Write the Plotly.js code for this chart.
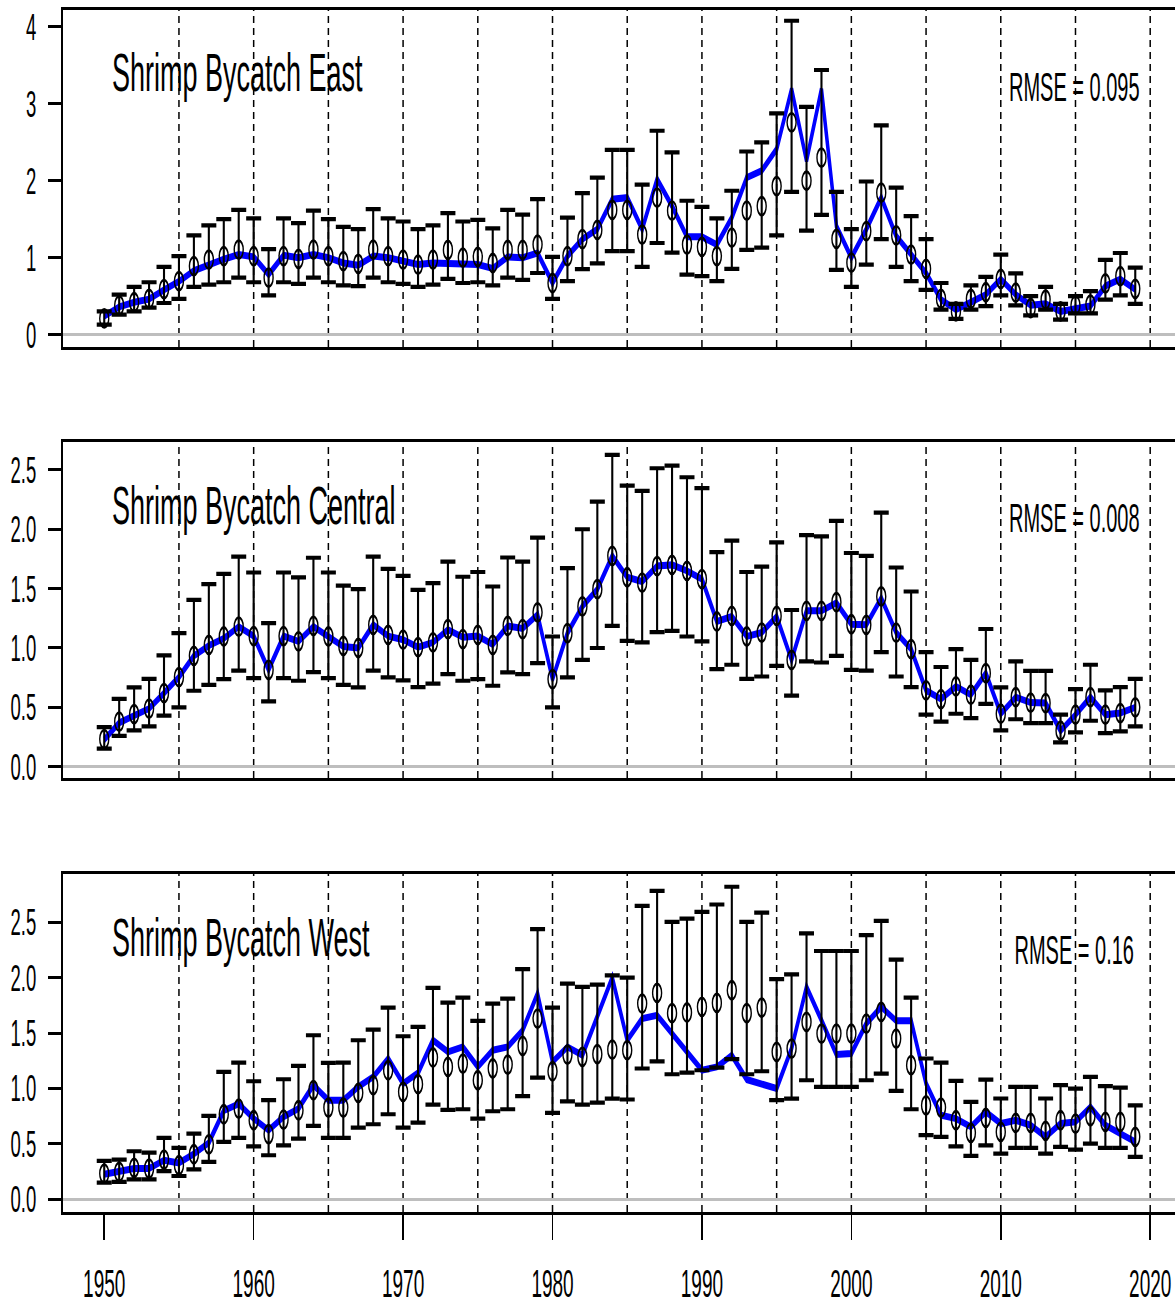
<!DOCTYPE html>
<html>
<head>
<meta charset="utf-8">
<script src="https://cdn.plot.ly/plotly-3.0.1.min.js"></script>
<style>
html,body{margin:0;padding:0;overflow:hidden;background:#fff;width:1175px;height:1305px;}
#wrap{width:1175px;height:1305px;overflow:hidden;position:relative;}
#chart{width:2400px;height:1305px;transform:scaleX(0.5);transform-origin:0 0;position:absolute;left:0;top:0;}
</style>
</head>
<body>
<div id="wrap"><div id="chart"></div></div>
<script>
// ---------------- data ----------------
const years = [1950,1951,1952,1953,1954,1955,1956,1957,1958,1959,
  1960,1961,1962,1963,1964,1965,1966,1967,1968,1969,
  1970,1971,1972,1973,1974,1975,1976,1977,1978,1979,
  1980,1981,1982,1983,1984,1985,1986,1987,1988,1989,
  1990,1991,1992,1993,1994,1995,1996,1997,1998,1999,
  2000,2001,2002,2003,2004,2005,2006,2007,2008,2009,
  2010,2011,2012,2013,2014,2015,2016,2017,2018,2019];

const panelTitles = ["Shrimp Bycatch East", "Shrimp Bycatch Central", "Shrimp Bycatch West"];
const rmseLabels = ["RMSE = 0.095", "RMSE = 0.008", "RMSE = 0.16"];
const xTickVals = [1950,1960,1970,1980,1990,2000,2010,2020];
const gridYears = [1955,1960,1965,1970,1975,1980,1985,1990,1995,2000,2005,2010,2015,2020];
const yTicksEast = [0,1,2,3,4];
const yTicksEastText = ["0","1","2","3","4"];
const yTicksCW = [0,0.5,1,1.5,2,2.5];
const yTicksCWText = ["0.0","0.5","1.0","1.5","2.0","2.5"];

// East
const eastObs = [0.21,0.38,0.42,0.465,0.59,0.695,0.89,0.975,1.02,1.105,
  1.02,0.74,1.02,0.985,1.105,1.02,0.955,0.92,1.105,1.02,
  0.975,0.91,0.975,1.10,1.00,1.01,0.93,1.10,1.10,1.17,
  0.67,1.02,1.24,1.36,1.62,1.62,1.30,1.78,1.61,1.17,
  1.14,1.02,1.26,1.61,1.67,1.93,2.76,2.00,2.30,1.245,
  0.935,1.345,1.845,1.29,1.04,0.855,0.465,0.30,0.465,0.55,
  0.725,0.545,0.345,0.455,0.30,0.38,0.39,0.665,0.76,0.595];
const eastLo = [0.13,0.26,0.30,0.35,0.41,0.465,0.62,0.65,0.68,0.74,
  0.68,0.51,0.68,0.66,0.74,0.68,0.64,0.63,0.74,0.68,
  0.66,0.62,0.65,0.725,0.67,0.68,0.64,0.74,0.71,0.80,
  0.465,0.695,0.85,0.925,1.085,1.085,0.88,1.19,1.065,0.78,
  0.76,0.695,0.855,1.10,1.13,1.29,1.855,1.35,1.555,0.84,
  0.62,0.91,1.24,0.88,0.695,0.58,0.325,0.205,0.325,0.37,
  0.51,0.38,0.25,0.325,0.195,0.275,0.275,0.455,0.51,0.40];
const eastHi = [0.30,0.52,0.62,0.68,0.88,1.02,1.29,1.42,1.50,1.62,
  1.51,1.11,1.51,1.45,1.61,1.50,1.40,1.37,1.63,1.51,
  1.47,1.37,1.42,1.58,1.47,1.49,1.38,1.62,1.56,1.76,
  1.01,1.52,1.84,2.04,2.40,2.40,1.95,2.65,2.37,1.74,
  1.66,1.51,1.87,2.38,2.50,2.875,4.08,2.96,3.44,1.855,
  1.37,1.99,2.72,1.91,1.54,1.24,0.67,0.40,0.64,0.75,
  1.04,0.795,0.50,0.62,0.40,0.50,0.565,0.97,1.06,0.87];
const eastFit = [0.24,0.36,0.42,0.46,0.58,0.69,0.83,0.91,0.98,1.04,
  1.01,0.78,1.03,1.00,1.04,1.00,0.93,0.90,1.02,1.00,
  0.955,0.91,0.93,0.93,0.91,0.91,0.86,1.01,1.00,1.06,
  0.67,1.02,1.24,1.37,1.76,1.78,1.37,2.02,1.67,1.27,
  1.27,1.17,1.52,2.04,2.13,2.41,3.19,2.26,3.19,1.41,
  1.00,1.37,1.78,1.28,1.04,0.80,0.455,0.325,0.42,0.52,
  0.72,0.52,0.38,0.40,0.30,0.345,0.37,0.63,0.72,0.585];

// Central
const centralObs = [0.233,0.38,0.443,0.49,0.62,0.755,0.934,1.027,1.097,1.18,
  1.10,0.816,1.10,1.055,1.187,1.097,1.018,1.00,1.195,1.11,
  1.07,1.007,1.047,1.159,1.075,1.111,1.027,1.187,1.159,1.30,
  0.738,1.125,1.35,1.495,1.776,1.596,1.55,1.69,1.70,1.65,
  1.58,1.223,1.27,1.097,1.13,1.27,0.90,1.313,1.313,1.386,
  1.20,1.195,1.434,1.13,0.99,0.643,0.57,0.676,0.606,0.788,
  0.446,0.586,0.54,0.536,0.303,0.438,0.586,0.438,0.452,0.50];
const centralLo = [0.152,0.26,0.306,0.34,0.43,0.50,0.64,0.69,0.738,0.81,
  0.746,0.55,0.746,0.724,0.797,0.746,0.69,0.668,0.81,0.752,
  0.727,0.67,0.70,0.78,0.724,0.738,0.682,0.794,0.78,0.873,
  0.50,0.752,0.90,1.00,1.187,1.06,1.047,1.134,1.145,1.097,
  1.055,0.822,0.859,0.74,0.76,0.85,0.598,0.887,0.878,0.934,
  0.816,0.81,0.965,0.76,0.67,0.438,0.38,0.446,0.41,0.53,
  0.306,0.40,0.367,0.367,0.205,0.289,0.387,0.283,0.297,0.34];
const centralHi = [0.334,0.572,0.668,0.74,0.937,1.125,1.406,1.538,1.625,1.77,
  1.636,1.21,1.636,1.594,1.76,1.636,1.526,1.495,1.77,1.667,
  1.608,1.49,1.546,1.728,1.60,1.64,1.518,1.762,1.728,1.93,
  1.097,1.672,2.00,2.233,2.626,2.368,2.323,2.514,2.536,2.438,
  2.346,1.807,1.905,1.64,1.686,1.89,1.32,1.95,1.94,2.07,
  1.80,1.776,2.14,1.678,1.476,0.965,0.84,0.99,0.90,1.16,
  0.668,0.887,0.808,0.808,0.438,0.654,0.859,0.643,0.67,0.74];
const centralFit = [0.227,0.37,0.43,0.49,0.62,0.755,0.934,1.02,1.08,1.18,
  1.10,0.816,1.10,1.055,1.18,1.097,1.013,1.00,1.195,1.10,
  1.07,1.007,1.047,1.155,1.09,1.10,1.03,1.185,1.165,1.28,
  0.738,1.125,1.35,1.495,1.776,1.596,1.56,1.69,1.70,1.65,
  1.58,1.223,1.265,1.097,1.13,1.265,0.90,1.313,1.313,1.38,
  1.20,1.195,1.42,1.13,0.99,0.643,0.57,0.676,0.606,0.788,
  0.446,0.586,0.54,0.536,0.303,0.438,0.586,0.438,0.452,0.50];

// West
const westObs = [0.232,0.247,0.283,0.277,0.358,0.307,0.406,0.496,0.767,0.818,
  0.713,0.587,0.719,0.803,0.984,0.827,0.827,0.96,1.029,1.164,
  0.969,1.038,1.279,1.194,1.224,1.074,1.18,1.215,1.384,1.63,
  1.155,1.306,1.285,1.309,1.35,1.345,1.766,1.862,1.68,1.685,
  1.736,1.772,1.886,1.68,1.73,1.33,1.36,1.60,1.495,1.495,
  1.495,1.585,1.69,1.45,1.21,0.848,0.827,0.713,0.599,0.734,
  0.608,0.689,0.689,0.617,0.713,0.683,0.749,0.698,0.698,0.563];
const westLo = [0.15,0.156,0.18,0.18,0.253,0.21,0.27,0.337,0.517,0.553,
  0.478,0.397,0.487,0.548,0.662,0.553,0.553,0.647,0.677,0.767,
  0.647,0.692,0.854,0.806,0.812,0.728,0.794,0.812,0.93,1.098,
  0.779,0.884,0.854,0.872,0.908,0.90,1.18,1.245,1.128,1.143,
  1.164,1.188,1.264,1.128,1.155,0.894,0.908,1.074,1.014,1.014,
  1.014,1.074,1.134,0.978,0.812,0.578,0.563,0.478,0.391,0.487,
  0.412,0.463,0.463,0.412,0.472,0.448,0.502,0.463,0.463,0.382];
const westHi = [0.346,0.358,0.433,0.421,0.553,0.463,0.593,0.752,1.149,1.233,
  1.065,0.894,1.083,1.203,1.48,1.23,1.233,1.435,1.531,1.73,
  1.471,1.555,1.907,1.775,1.82,1.61,1.766,1.811,2.076,2.437,
  1.73,1.946,1.916,1.937,2.02,2.00,2.647,2.783,2.503,2.533,
  2.593,2.66,2.82,2.503,2.587,1.986,2.03,2.40,2.24,2.24,
  2.24,2.383,2.512,2.163,1.82,1.27,1.233,1.068,0.878,1.08,
  0.909,1.014,1.014,0.909,1.029,0.999,1.104,1.02,1.008,0.848];
const westFit = [0.226,0.247,0.277,0.277,0.352,0.328,0.41,0.51,0.80,0.86,
  0.728,0.623,0.743,0.818,1.03,0.894,0.894,1.014,1.104,1.27,
  1.044,1.14,1.435,1.33,1.375,1.194,1.345,1.375,1.525,1.856,
  1.24,1.375,1.30,1.65,2.00,1.435,1.63,1.66,1.49,1.33,
  1.164,1.194,1.30,1.08,1.044,1.00,1.36,1.916,1.615,1.306,
  1.315,1.585,1.736,1.61,1.61,1.044,0.758,0.728,0.653,0.788,
  0.683,0.713,0.668,0.563,0.683,0.698,0.833,0.668,0.593,0.517];

// ---------------- chart ----------------
const FONT = "Liberation Sans, Arial, Helvetica, sans-serif";
const panels = [
  {obs: eastObs, lo: eastLo, hi: eastHi, fit: eastFit, xa: 'x', ya: 'y',
   range: [-0.162, 4.22], dom: [1 - 347/1305, 1 - 10/1305], tv: yTicksEast, tt: yTicksEastText},
  {obs: centralObs, lo: centralLo, hi: centralHi, fit: centralFit, xa: 'x2', ya: 'y2',
   range: [-0.095, 2.735], dom: [1 - 778/1305, 1 - 442/1305], tv: yTicksCW, tt: yTicksCWText},
  {obs: westObs, lo: westLo, hi: westHi, fit: westFit, xa: 'x3', ya: 'y3',
   range: [-0.115, 2.935], dom: [1 - 1212/1305, 1 - 874/1305], tv: yTicksCW, tt: yTicksCWText}
];

const traces = [];
const shapes = [];
const annotations = [];
const layout = {
  width: 2400, height: 1305,
  margin: {l: 126, r: 47, t: 0, b: 0},
  paper_bgcolor: '#ffffff', plot_bgcolor: '#ffffff',
  showlegend: false,
  font: {family: FONT, color: '#000000'}
};

panels.forEach((p, i) => {
  traces.push({
    x: years, y: p.fit, xaxis: p.xa, yaxis: p.ya,
    type: 'scatter', mode: 'lines',
    line: {color: '#0000ff', width: 7},
    hoverinfo: 'skip'
  });
  traces.push({
    x: years, y: p.obs, xaxis: p.xa, yaxis: p.ya,
    type: 'scatter', mode: 'markers',
    marker: {symbol: 'circle-open', size: 18, color: '#000000', line: {width: 2.8, color: '#000000'}},
    error_y: {
      type: 'data', symmetric: false,
      array: p.hi.map((h, k) => h - p.obs[k]),
      arrayminus: p.lo.map((l, k) => p.obs[k] - l),
      color: '#000000', thickness: 4.2, width: 15
    },
    hoverinfo: 'skip'
  });

  const xName = i === 0 ? 'xaxis' : 'xaxis' + (i + 1);
  const yName = i === 0 ? 'yaxis' : 'yaxis' + (i + 1);
  const isBottom = i === 2;
  layout[xName] = {
    domain: [0, 1], anchor: p.ya, range: [1947.24, 2021.76],
    showline: true, mirror: true, linecolor: '#000000', linewidth: 3,
    showgrid: false, zeroline: false,
    tickmode: 'array', tickvals: xTickVals, ticktext: xTickVals.map(String),
    ticks: isBottom ? 'outside' : '', ticklen: 25, tickwidth: 3, tickcolor: '#000000',
    showticklabels: isBottom, ticklabelstandoff: 11,
    tickfont: {family: FONT, size: 38, color: '#000000'}
  };
  layout[yName] = {
    domain: p.dom, anchor: p.xa, range: p.range,
    showline: true, mirror: true, linecolor: '#000000', linewidth: 4,
    showgrid: false,
    zeroline: true, zerolinecolor: '#bebebe', zerolinewidth: 3,
    tickmode: 'array', tickvals: p.tv, ticktext: p.tt,
    ticks: 'outside', ticklen: 26, tickwidth: 3, tickcolor: '#000000',
    ticklabelstandoff: 16,
    tickfont: {family: FONT, size: 37, color: '#000000'}
  };

  gridYears.forEach(g => {
    shapes.push({
      type: 'line', layer: 'below', xref: p.xa, yref: p.ya + ' domain',
      x0: g, x1: g, y0: 0, y1: 1,
      line: {color: '#000000', width: 3, dash: '7px,5px'}
    });
  });

  const ty = [0.816, 0.8125, 0.8136][i];
  const ry = [0.7715, 0.774, 0.775][i];
  annotations.push({
    xref: p.xa + ' domain', yref: p.ya + ' domain', x: 0.0431, y: ty,
    xanchor: 'left', yanchor: 'middle', showarrow: false,
    text: panelTitles[i], font: {family: FONT, size: 54, color: '#000000'}
  });
  annotations.push({
    xref: p.xa + ' domain', yref: p.ya + ' domain', x: 0.908, y: ry,
    xanchor: 'center', yanchor: 'middle', showarrow: false,
    text: rmseLabels[i], font: {family: FONT, size: 40, color: '#000000'}
  });
});

layout.shapes = shapes;
layout.annotations = annotations;

Plotly.newPlot('chart', traces, layout, {staticPlot: true, displayModeBar: false, responsive: false});
</script>
</body>
</html>
